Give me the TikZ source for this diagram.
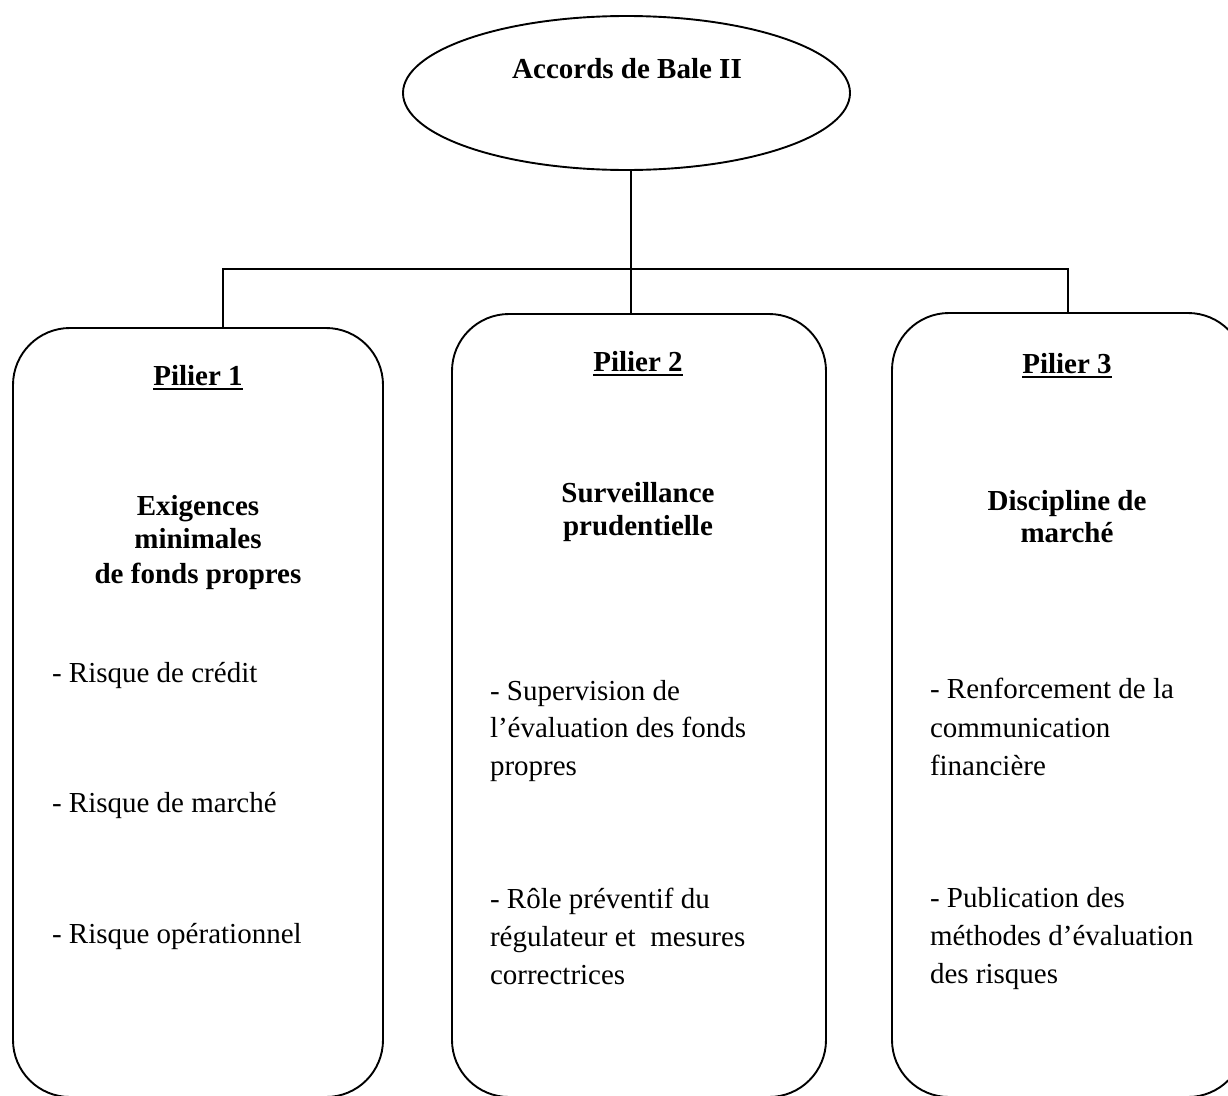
\documentclass[tikz,border=0pt]{standalone}
\usepackage{fontspec}
\setmainfont{Liberation Serif}
\usetikzlibrary{shapes.geometric}
\begin{document}
\begin{tikzpicture}[x=1pt,y=-1pt,
  every node/.style={inner sep=0pt, outer sep=0pt},
  ln/.style={line width=1.9pt},
  pillar/.style={draw, line width=1.9pt, rounded corners=57pt, rectangle},
  head/.style={anchor=base, font=\fontsize{29}{33}\selectfont\bfseries},
  item/.style={anchor=base west, font=\fontsize{29}{38}\selectfont},
  uline/.style={line width=2.5pt},
]
\useasboundingbox (0,0) rectangle (1228,1095);
\clip (0,0) rectangle (1228,1095);

% top ellipse
\node[draw, ellipse, ln, minimum width=447pt, minimum height=154pt] (acc) at (626.5,93) {};
\node[head] (title) at (627,78) {Accords de Bale II};

% pillars
\node[pillar, minimum width=370pt, minimum height=769pt] (p1) at (198,712.5) {};
\node[pillar, minimum width=374pt, minimum height=783pt] (p2) at (639,705.5) {};
\node[pillar, minimum width=353pt, minimum height=784pt] (p3) at (1068.5,705) {};

% connectors
\coordinate (j1) at (223,269);
\coordinate (j2) at (631,269);
\coordinate (j3) at (1068,269);
\draw[ln] (j2 |- acc.south) -- (j2 |- p2.north);
\draw[ln] (j1 |- p1.north) -- (j1) -- (j3) -- (j3 |- p3.north);

% headings
\node[head] (h1) at (198,385) {Pilier 1};
\node[head] (h2) at (638,371) {Pilier 2};
\node[head] (h3) at (1067,373) {Pilier 3};
\draw[uline] ([yshift=-4pt]h1.base west) -- ([yshift=-4pt]h1.base east);
\draw[uline] ([yshift=-4pt]h2.base west) -- ([yshift=-4pt]h2.base east);
\draw[uline] ([yshift=-4pt]h3.base west) -- ([yshift=-4pt]h3.base east);

\node[head] (t1a) at (198,515) {Exigences};
\node[head] (t1b) at (198,548) {minimales};
\node[head] (t1c) at (198,583) {de fonds propres};

\node[head] (t2a) at (638,502) {Surveillance};
\node[head] (t2b) at (638,535) {prudentielle};

\node[head] (t3a) at (1067,510) {Discipline de};
\node[head] (t3b) at (1067,542) {marché};

% items pillar 1
\node[item] (i1a) at (52,682) {- Risque de crédit};
\node[item] (i1b) at (52,812) {- Risque de marché};
\node[item] (i1c) at (52,943) {- Risque opérationnel};

% items pillar 2
\node[item] (i2a) at (490,700) {- Supervision de};
\node[item] (i2b) at (490,737) {l’évaluation des fonds};
\node[item] (i2c) at (490,775) {propres};
\node[item] (i2d) at (490,908) {- Rôle préventif du};
\node[item] (i2e) at (490,946) {régulateur et\ \ mesures};
\node[item] (i2f) at (490,984) {correctrices};

% items pillar 3
\node[item] (i3a) at (930,698) {- Renforcement de la};
\node[item] (i3b) at (930,737) {communication};
\node[item] (i3c) at (930,775) {financière};
\node[item] (i3d) at (930,907) {- Publication des};
\node[item] (i3e) at (930,945) {méthodes d’évaluation};
\node[item] (i3f) at (930,983) {des risques};
\end{tikzpicture}
\end{document}
